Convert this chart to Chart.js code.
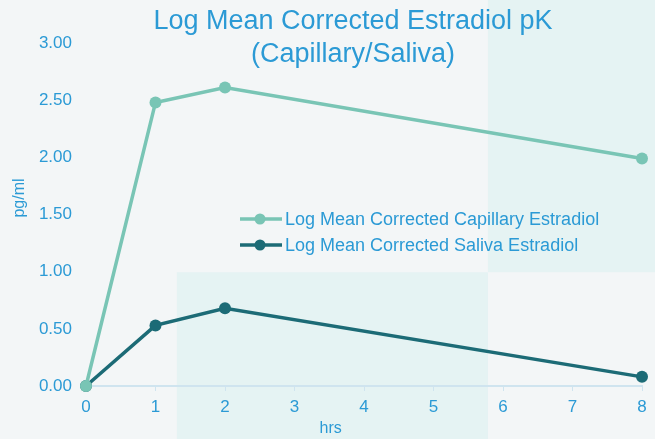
<!DOCTYPE html>
<html>
<head>
<meta charset="utf-8">
<script src="https://cdn.jsdelivr.net/npm/chart.js@4"></script>
<style>
    html, body { margin: 0; padding: 0; background: #f3f6f7; }
    #wrap { width: 655px; height: 439px; }
</style>
</head>
<body>
<div id="wrap"><canvas id="pkChart"></canvas></div>
<script>
// Data
const titleLines = ['Log Mean Corrected Estradiol pK', '(Capillary/Saliva)'];
const hours = [0, 1, 2, 8];
const capillaryValues = [0, 2.48, 2.61, 1.99];
const salivaValues = [0, 0.53, 0.68, 0.08];
const seriesLabels = ['Log Mean Corrected Capillary Estradiol', 'Log Mean Corrected Saliva Estradiol'];
const xTitle = 'hrs';
const yTitle = 'pg/ml';

const TEXT_BLUE = '#2b9ad5';
const FONT = '"Liberation Sans", Arial, sans-serif';

// Faint tinted panels behind the plot, plus title / legend / axis titles
const decorPlugin = {
    id: 'decor',
    beforeDraw(chart) {
        const { ctx, width, height } = chart;
        ctx.save();
        ctx.fillStyle = '#f3f6f7';
        ctx.fillRect(0, 0, width, height);
        ctx.fillStyle = 'rgba(200, 236, 236, 0.3)';
        ctx.fillRect(width * 0.745, 0, width * 0.255, height * 0.62);
        ctx.fillRect(width * 0.27, height * 0.62, width * 0.475, height * 0.38);
        ctx.restore();
    },
    afterDraw(chart) {
        const { ctx, chartArea } = chart;
        ctx.save();
        ctx.fillStyle = TEXT_BLUE;
        ctx.textAlign = 'center';
        ctx.textBaseline = 'middle';

        // title
        ctx.font = '27px ' + FONT;
        titleLines.forEach((line, i) => ctx.fillText(line, 353, 22 + i * 33));

        // axis titles
        ctx.font = '16px ' + FONT;
        ctx.fillText(xTitle, chartArea.left + (chartArea.right - chartArea.left) * 0.44, 429);
        ctx.save();
        ctx.translate(20, 198);
        ctx.rotate(-Math.PI / 2);
        ctx.fillText(yTitle, 0, 0);
        ctx.restore();

        // legend inside the plot
        ctx.font = '18px ' + FONT;
        ctx.textAlign = 'left';
        chart.data.datasets.forEach((ds, i) => {
            const y = 219 + i * 26;
            ctx.strokeStyle = ds.borderColor;
            ctx.lineWidth = 3.5;
            ctx.beginPath();
            ctx.moveTo(240, y);
            ctx.lineTo(282, y);
            ctx.stroke();
            ctx.fillStyle = ds.borderColor;
            ctx.beginPath();
            ctx.arc(260, y, 5.5, 0, Math.PI * 2);
            ctx.fill();
            ctx.fillStyle = TEXT_BLUE;
            ctx.fillText(ds.label, 285, y + 1);
        });
        ctx.restore();
    }
};

function toPoints(values) {
    return hours.map((h, i) => ({ x: h, y: values[i] }));
}

const ctx = document.getElementById('pkChart').getContext('2d');
new Chart(ctx, {
    type: 'line',
    data: {
        datasets: [
            {
                label: seriesLabels[0],
                data: toPoints(capillaryValues),
                borderColor: '#79c5b5',
                backgroundColor: '#79c5b5',
                borderWidth: 3.5,
                pointRadius: 6,
                pointBorderWidth: 0,
                tension: 0,
                clip: false
            },
            {
                label: seriesLabels[1],
                data: toPoints(salivaValues),
                borderColor: '#1c6b76',
                backgroundColor: '#1c6b76',
                borderWidth: 3.5,
                pointRadius: 6,
                pointBorderWidth: 0,
                tension: 0,
                clip: false
            }
        ]
    },
    options: {
        responsive: true,
        maintainAspectRatio: false,
        animation: false,
        layout: { padding: { left: 0, right: 13, top: 43, bottom: 0 } },
        plugins: {
            legend: { display: false },
            title: { display: false },
            tooltip: { enabled: false }
        },
        scales: {
            x: {
                type: 'linear',
                min: 0,
                max: 8,
                ticks: { stepSize: 1, color: TEXT_BLUE, font: { size: 17, family: FONT }, padding: 6 },
                grid: { drawOnChartArea: false, drawTicks: true, tickLength: 5, color: '#cfe4ef' },
                border: { color: '#cfe4ef', width: 2 },
                afterFit: (scale) => { scale.height = 53; }
            },
            y: {
                min: 0,
                max: 3,
                ticks: {
                    stepSize: 0.5,
                    color: TEXT_BLUE,
                    font: { size: 17, family: FONT },
                    padding: 14,
                    callback: (v) => Number(v).toFixed(2)
                },
                grid: { display: false, drawTicks: false },
                border: { display: false },
                afterFit: (scale) => { scale.width = 86; }
            }
        }
    },
    plugins: [decorPlugin]
});
</script>
</body>
</html>
